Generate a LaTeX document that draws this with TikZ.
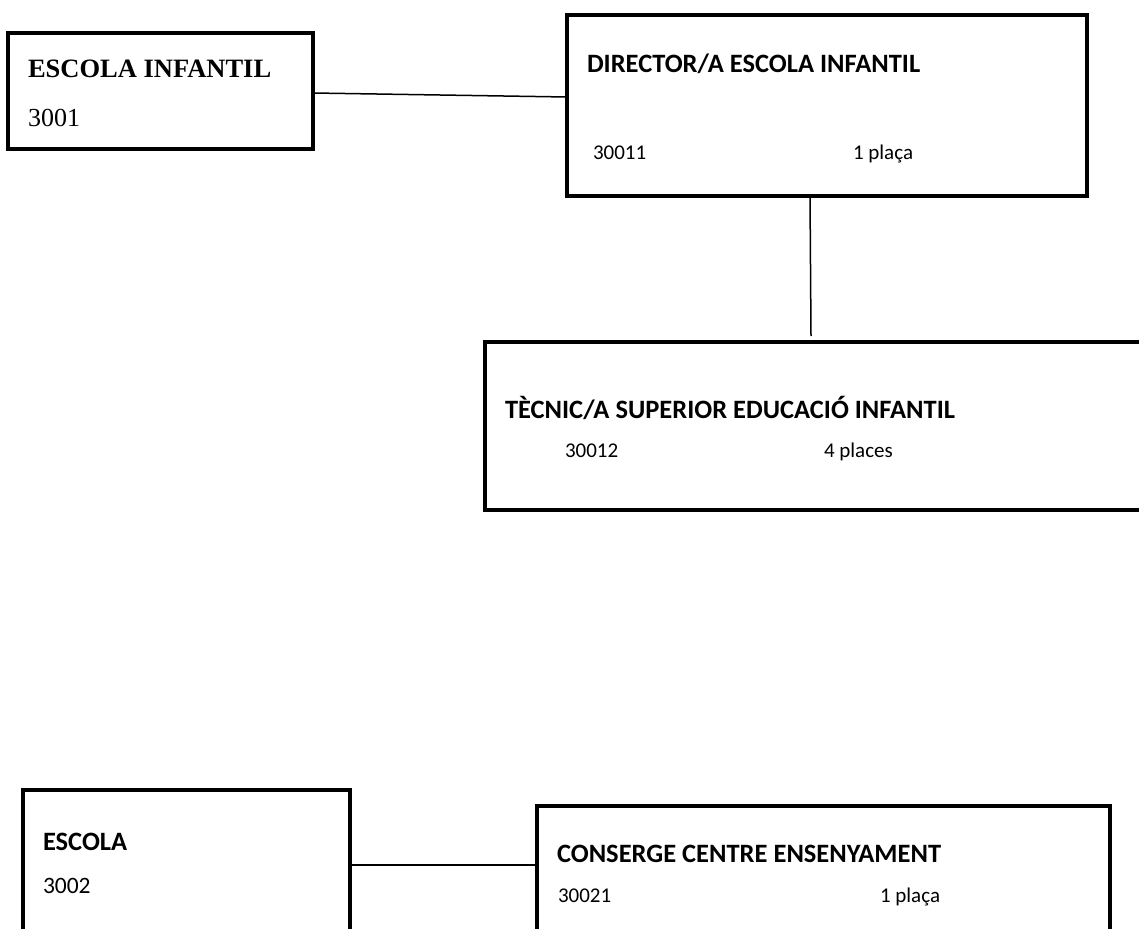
\documentclass[tikz,border=0pt]{standalone}
\usepackage{fontspec}
\setmainfont{Carlito}
\newfontfamily\serifx{Liberation Serif}
\begin{document}
\begin{tikzpicture}[x=1pt,y=-1pt,
  box/.style={draw=black, line width=4pt, rectangle, anchor=north west, inner sep=0pt, outer sep=0pt},
  conn/.style={draw=black, line width=1.5pt},
  txt/.style={anchor=base west, inner sep=0pt, outer sep=0pt},
  ttl/.style={txt, font=\fontsize{26.5}{30}\selectfont\bfseries},
  sub/.style={txt, font=\fontsize{21}{25}\selectfont},
  sttl/.style={txt, font=\serifx\fontsize{26.5}{30}\selectfont\bfseries},
  ssub/.style={txt, font=\serifx\fontsize{26}{30}\selectfont}]
\useasboundingbox (0,0) rectangle (1139,928);
\clip (0,0) rectangle (1139,928);
\fill[white] (0,0) rectangle (1139,928);
% boxes
\node[box, minimum width=305pt, minimum height=116pt] (b1) at (8,33) {};
\node[box, minimum width=520pt, minimum height=181pt] (b2) at (567,15) {};
\node[box, minimum width=700pt, minimum height=168pt] (b3) at (485,342) {};
\node[box, minimum width=327pt, minimum height=200pt] (b4) at (23,790) {};
\node[box, minimum width=573pt, minimum height=200pt] (b5) at (537,806) {};
% texts
\node[sttl] (t1) at (28,78) {ESCOLA INFANTIL};
\node[ssub] (c1) at (28,127) {3001};
\node[ttl] (t2) at (587,73) {DIRECTOR/A ESCOLA INFANTIL};
\node[sub] (c2) at (593,160) {30011};
\node[sub] (p2) at (853,160) {1 plaça};
\node[ttl] (t3) at (505,418) {TÈCNIC/A SUPERIOR EDUCACIÓ INFANTIL};
\node[sub] (c3) at (565,457) {30012};
\node[sub] (p3) at (824,457) {4 places};
\node[ttl] (t4) at (43,850) {ESCOLA};
\node[txt, font=\fontsize{23.5}{27}\selectfont] (c4) at (43,893) {3002};
\node[ttl] (t5) at (557,862) {CONSERGE CENTRE ENSENYAMENT};
\node[sub] (c5) at (558,902) {30021};
\node[sub] (p5) at (880,902) {1 plaça};
% connectors
\coordinate (e3) at (811,336);
\draw[conn] (b1.east |- 0,93) -- (b2.west |- 0,97);
\draw[conn] (b2.south -| 810,0) -- (e3);
\draw[conn] (b4.east |- 0,865) -- (b5.west |- 0,865);
\end{tikzpicture}
\end{document}
